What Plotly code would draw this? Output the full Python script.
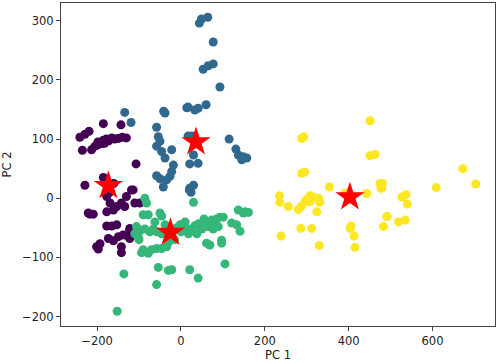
import plotly.graph_objects as go

# Cluster 0 (purple)
c0_x = [-185, -143, -219, -229, -241, -235, -213, -205, -198, -190, -185, -178, -172, -165, -158, -150,
        -140, -130, -200, -182, -107, -229, -185, -177, -118, -130, -142, -153, -169, -177, -161, -134,
        -217, -209, -177, -165, -153, -122, -173, -161, -149, -138, -126, -201, -193, -142, -142, -221,
        -197, -110, -98, -114, -122, -122, -170, -160]
c0_y = [126, 124, 113, 108, 103, 81, 82, 88, 95, 92, 98, 100, 97, 102, 100, 101,
        103, 102, 90, 93, 58, 22, 35, 3, 14, 3, -8, -14, -8, -23, -20, -14,
        -27, -27, -47, -47, -45, -51, -68, -72, -65, -62, -65, -82, -77, -82, -92, -25,
        -86, -8, -8, 14, -54, -68, 10, 25]

# Cluster 1 (blue)
c1_x = [44, 49, 64, 77, 53, 65, 77, 93, 14, 33, 41, 60, -41, 17, -38, -58, -54, -50, -58, -46,
        -38, -22, 17, 30, 21, 41, -18, -22, -58, -50, -34, -26, -42, 21, 30, 115, 131, 137, 149,
        157, 145, -134, -119, 26, 40, 24, 20]
c1_y = [296, 303, 306, 264, 218, 224, 227, 188, 153, 149, 152, 158, 147, 154, 144, 120, 104, 96, 88, 79,
        68, 82, 105, 73, 58, 59, 56, 45, 38, 33, 31, 37, 19, 17, 22, 100, 83, 73, 70,
        68, 65, 145, 128, 105, 96, 10, 14]

# Cluster 2 (green)
c2_x = [-86, -82, 30, -90, -78, -50, -46, -106, -98, -110, -102, -86, -74, -66, -58, -46, -90, -78, -70,
        -58, -46, -34, -94, -2, 6, 22, 34, 42, 50, 61, 73, 85, 93, 101, 65, 77, 89, 38, 18, 61, 69,
        97, 97, 121, 133, 141, 137, 153, 161, 149, 105, -54, -30, -22, 21, 41, -58, -136, -152,
        -10, -15, 10, 0, -30, -38, 55, 80, -62, -100]
c2_y = [0, -8, -7, -28, -28, -25, -30, -48, -55, -60, -65, -52, -57, -52, -57, -60, -87, -93, -87,
        -85, -85, -82, -92, -45, -52, -52, -46, -43, -52, -40, -37, -35, -32, -32, -48, -52, -48, -60, -60, -76, -79,
        -71, -76, -42, -45, -56, -20, -23, -24, -25, -111, -117, -122, -121, -121, -135, -146, -128, -191,
        -50, -70, -40, -57, -75, -45, -35, -40, -40, -70]

# Cluster 3 (yellow)
c3_x = [451, 288, 293, 451, 463, 288, 295, 354, 235, 236, 256, 280, 287, 296, 308, 308, 328, 331, 324,
        391, 443, 475, 477, 491, 483, 286, 312, 239, 406, 403, 413, 330, 415, 672, 703, 609, 481, 479,
        527, 537, 540, 492, 519, 535, 300, 316]
c3_y = [131, 101, 104, 72, 74, 42, 44, 19, 4, -7, -14, -19, -14, -6, 4, -6, 0, -7, -23,
        9, 8, 25, 17, -31, -48, -51, -51, -64, -47, -51, -64, -80, -83, 50, 24, 18, 25, 17,
        2, 6, -10, -31, -40, -37, -2, 2]

# Centroids
cent_x = [-173, 36, -25, 403]
cent_y = [21, 95, -58, 2]

clusters = [(c0_x, c0_y, "#440154"), (c1_x, c1_y, "#31688e"),
            (c2_x, c2_y, "#35b779"), (c3_x, c3_y, "#fde725")]

x_ticks = [-200, 0, 200, 400, 600]
y_ticks = [-200, -100, 0, 100, 200, 300]

fig = go.Figure()
for xs, ys, col in clusters:
    fig.add_trace(go.Scatter(x=xs, y=ys, mode="markers",
                             marker=dict(size=9, color=col, line=dict(width=0)),
                             showlegend=False, hoverinfo="skip"))
fig.add_trace(go.Scatter(x=cent_x, y=cent_y, mode="markers",
                         marker=dict(symbol="star", size=22, color="red", line=dict(width=0)),
                         showlegend=False))

axis_common = dict(showgrid=False, zeroline=False, showline=True, mirror=True,
                   linecolor="#444444", linewidth=1, ticks="outside", ticklen=4,
                   tickcolor="#444444", automargin=False,
                   tickfont=dict(family="DejaVu Sans", size=11.5, color="#222222"))
fig.update_xaxes(range=[-286, 749], tickvals=x_ticks,
                 ticktext=[str(v).replace("-", "\u2212") for v in x_ticks],
                 title=dict(text="PC 1", font=dict(family="DejaVu Sans", size=11.5, color="#222222"), standoff=2),
                 **axis_common)
fig.update_yaxes(range=[-216, 330], tickvals=y_ticks,
                 ticktext=[str(v).replace("-", "\u2212") for v in y_ticks],
                 title=dict(text="PC 2", font=dict(family="DejaVu Sans", size=11.5, color="#222222"), standoff=8),
                 **axis_common)
fig.update_layout(width=498, height=364, margin=dict(l=61, r=3, t=3, b=38),
                  plot_bgcolor="white", paper_bgcolor="white")
fig.write_html("out.html", config={"displayModeBar": False},
               post_script="document.body.style.margin='0';")
